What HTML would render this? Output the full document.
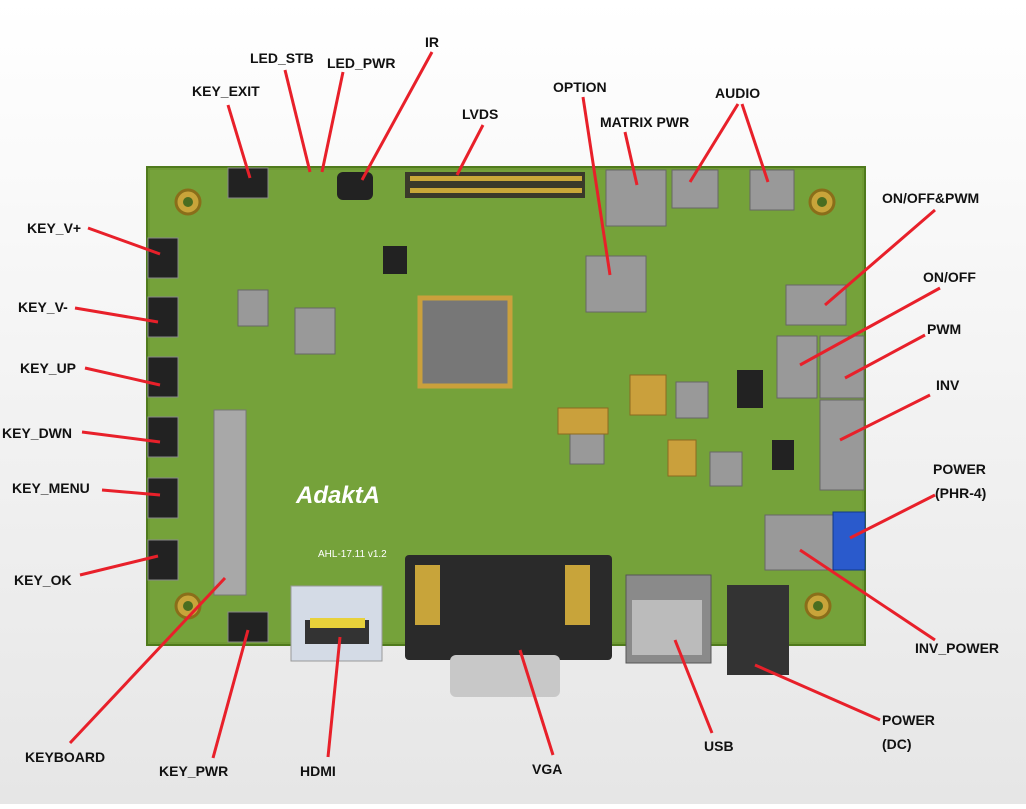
<!DOCTYPE html>
<html><head><meta charset="utf-8"><style>
html,body{margin:0;padding:0;}
body{width:1026px;height:804px;overflow:hidden;background:linear-gradient(#ffffff,#ececec);font-family:"Liberation Sans",Arial,sans-serif;}
svg text{font-family:"Liberation Sans",Arial,sans-serif;font-weight:bold;font-size:14px;fill:#111;}
</style></head><body>
<svg width="1026" height="804" viewBox="0 0 1026 804" xmlns="http://www.w3.org/2000/svg">
<defs>
<linearGradient id="bg" x1="0" y1="0" x2="0" y2="1"><stop offset="0" stop-color="#fff"/><stop offset="1" stop-color="#e6e6e6"/></linearGradient>
</defs>
<rect width="1026" height="804" fill="url(#bg)"/>
<!-- board -->
<rect x="147" y="167" width="718" height="478" fill="#6f9a34" stroke="#4f7a1c" stroke-width="2"/>
<rect x="150" y="170" width="712" height="472" fill="#75a23a"/>
<!-- mounting holes -->
<g fill="#c8a43a" stroke="#8a6e1a" stroke-width="3">
<circle cx="188" cy="202" r="12"/><circle cx="822" cy="202" r="12"/><circle cx="188" cy="606" r="12"/><circle cx="818" cy="606" r="12"/></g>
<g fill="#4a6d20"><circle cx="188" cy="202" r="5"/><circle cx="822" cy="202" r="5"/><circle cx="188" cy="606" r="5"/><circle cx="818" cy="606" r="5"/></g>
<!-- side keys -->
<g fill="#222" stroke="#888" stroke-width="1">
<rect x="148" y="238" width="30" height="40"/><rect x="148" y="297" width="30" height="40"/><rect x="148" y="357" width="30" height="40"/><rect x="148" y="417" width="30" height="40"/><rect x="148" y="478" width="30" height="40"/><rect x="148" y="540" width="30" height="40"/>
<rect x="228" y="168" width="40" height="30"/><rect x="228" y="612" width="40" height="30"/>
</g>
<!-- keyboard connector -->
<rect x="214" y="410" width="32" height="185" fill="#a8a8a8" stroke="#777"/>
<!-- LVDS header -->
<rect x="405" y="172" width="180" height="26" fill="#3a3a2a"/>
<g fill="#c9a838"><rect x="410" y="176" width="172" height="5"/><rect x="410" y="188" width="172" height="5"/></g>
<!-- IR -->
<rect x="337" y="172" width="36" height="28" rx="6" fill="#222"/>
<!-- MCU -->
<rect x="420" y="298" width="90" height="88" fill="#777" stroke="#caa03c" stroke-width="5"/>
<!-- grey blocks -->
<g fill="#999" stroke="#666">
<rect x="606" y="170" width="60" height="56"/><rect x="672" y="170" width="46" height="38"/><rect x="750" y="170" width="44" height="40"/>
<rect x="586" y="256" width="60" height="56"/>
<rect x="786" y="285" width="60" height="40"/><rect x="777" y="336" width="40" height="62"/><rect x="820" y="336" width="44" height="62"/>
<rect x="820" y="400" width="44" height="90"/><rect x="765" y="515" width="68" height="55"/>
<rect x="676" y="382" width="32" height="36"/><rect x="710" y="452" width="32" height="34"/><rect x="570" y="430" width="34" height="34"/>
<rect x="295" y="308" width="40" height="46"/><rect x="238" y="290" width="30" height="36"/>
</g>
<!-- tantalum caps -->
<g fill="#caa03c" stroke="#8c6a20"><rect x="630" y="375" width="36" height="40"/><rect x="558" y="408" width="50" height="26"/><rect x="668" y="440" width="28" height="36"/></g>
<rect x="737" y="370" width="26" height="38" fill="#222"/><rect x="772" y="440" width="22" height="30" fill="#222"/><rect x="383" y="246" width="24" height="28" fill="#222"/>
<!-- blue connector -->
<rect x="833" y="512" width="32" height="58" fill="#2a5acc" stroke="#123a8a"/>
<!-- logo -->
<text x="296" y="503" style="font-size:24px;fill:#fff;font-style:italic">AdaktA</text>
<text x="318" y="557" style="font-size:10px;fill:#fff;font-weight:normal">AHL-17.11 v1.2</text>
<!-- VGA -->
<rect x="405" y="555" width="207" height="105" fill="#2a2a2a" rx="4"/>
<rect x="450" y="655" width="110" height="42" fill="#c8c8c8" rx="6"/>
<rect x="415" y="565" width="25" height="60" fill="#c8a43a"/><rect x="565" y="565" width="25" height="60" fill="#c8a43a"/>
<!-- HDMI -->
<rect x="291" y="586" width="91" height="75" fill="#d4dbe6" stroke="#999"/>
<rect x="305" y="620" width="64" height="24" fill="#333"/><rect x="310" y="618" width="55" height="10" fill="#e8d13a"/>
<!-- USB -->
<rect x="626" y="575" width="85" height="88" fill="#8a8a8a" stroke="#555"/>
<rect x="632" y="600" width="70" height="55" fill="#bbb"/>
<!-- DC -->
<rect x="727" y="585" width="62" height="90" fill="#333"/>
<!-- red lines -->
<g stroke="#e8202a" stroke-width="3" fill="none">
<line x1="228" y1="105" x2="250" y2="178"/>
<line x1="285" y1="70" x2="310" y2="172"/>
<line x1="343" y1="72" x2="322" y2="172"/>
<line x1="432" y1="52" x2="362" y2="180"/>
<line x1="483" y1="125" x2="457" y2="175"/>
<line x1="583" y1="97" x2="610" y2="275"/>
<line x1="625" y1="132" x2="637" y2="185"/>
<line x1="738" y1="104" x2="690" y2="182"/>
<line x1="742" y1="104" x2="768" y2="182"/>
<line x1="935" y1="210" x2="825" y2="305"/>
<line x1="940" y1="288" x2="800" y2="365"/>
<line x1="925" y1="335" x2="845" y2="378"/>
<line x1="930" y1="395" x2="840" y2="440"/>
<line x1="935" y1="495" x2="850" y2="538"/>
<line x1="935" y1="640" x2="800" y2="550"/>
<line x1="880" y1="720" x2="755" y2="665"/>
<line x1="712" y1="733" x2="675" y2="640"/>
<line x1="553" y1="755" x2="520" y2="650"/>
<line x1="328" y1="757" x2="340" y2="637"/>
<line x1="213" y1="758" x2="248" y2="630"/>
<line x1="70" y1="743" x2="225" y2="578"/>
<line x1="88" y1="228" x2="160" y2="254"/>
<line x1="75" y1="308" x2="158" y2="322"/>
<line x1="85" y1="368" x2="160" y2="385"/>
<line x1="82" y1="432" x2="160" y2="442"/>
<line x1="102" y1="490" x2="160" y2="495"/>
<line x1="80" y1="575" x2="158" y2="556"/>
</g>
<!-- labels -->
<text x="192" y="96">KEY_EXIT</text>
<text x="250" y="63">LED_STB</text>
<text x="327" y="68">LED_PWR</text>
<text x="425" y="47">IR</text>
<text x="462" y="119">LVDS</text>
<text x="553" y="92">OPTION</text>
<text x="600" y="127">MATRIX PWR</text>
<text x="715" y="98">AUDIO</text>
<text x="882" y="203">ON/OFF&amp;PWM</text>
<text x="923" y="282">ON/OFF</text>
<text x="927" y="334">PWM</text>
<text x="936" y="390">INV</text>
<text x="933" y="474">POWER</text>
<text x="935" y="498">(PHR-4)</text>
<text x="915" y="653">INV_POWER</text>
<text x="882" y="725">POWER</text>
<text x="882" y="749">(DC)</text>
<text x="704" y="751">USB</text>
<text x="532" y="774">VGA</text>
<text x="300" y="776">HDMI</text>
<text x="159" y="776">KEY_PWR</text>
<text x="25" y="762">KEYBOARD</text>
<text x="27" y="233">KEY_V+</text>
<text x="18" y="312">KEY_V-</text>
<text x="20" y="373">KEY_UP</text>
<text x="2" y="438">KEY_DWN</text>
<text x="12" y="493">KEY_MENU</text>
<text x="14" y="585">KEY_OK</text>
</svg>
</body></html>
